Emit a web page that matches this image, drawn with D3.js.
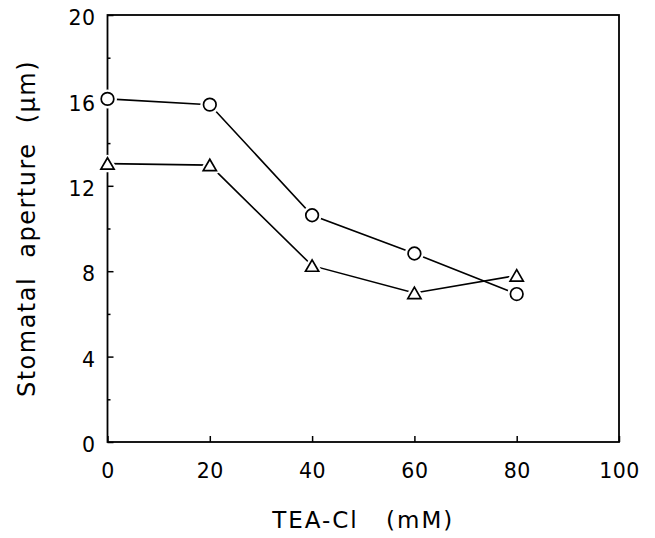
<!DOCTYPE html>
<html>
<head>
<meta charset="utf-8">
<script src="https://cdn.jsdelivr.net/npm/d3@7"></script>
<style>
  html, body { margin: 0; padding: 0; background: #fff; }
  svg { display: block; }
  text { font-family: "DejaVu Sans", "Liberation Sans", Arial, sans-serif; fill: #000; }
</style>
</head>
<body>
<svg id="chart" width="655" height="538"></svg>
<script>
// TEA-Cl concentration (mM)
const concentrations = [0, 20, 40, 60, 80];
// Stomatal aperture (µm), circles series
const circleSeries = [16.07, 15.8, 10.62, 8.83, 6.93];
// Stomatal aperture (µm), triangles series
const triangleSeries = [13.04, 12.97, 8.26, 6.98, 7.8];
// Axis ticks
const xTicks = [0, 20, 40, 60, 80, 100];
const yMajorTicks = [0, 4, 8, 12, 16, 20];
const yMinorTicks = [2, 6, 10, 14, 18];

const svg = d3.select("#chart");
const plotLeft = 107.5, plotRight = 619, plotTop = 15, plotBottom = 442;

const x = d3.scaleLinear().domain([0, 100]).range([plotLeft, plotRight]);
const y = d3.scaleLinear().domain([0, 20]).range([plotBottom, plotTop]);

// Frame
svg.append("rect")
  .attr("x", plotLeft).attr("y", plotTop)
  .attr("width", plotRight - plotLeft).attr("height", plotBottom - plotTop)
  .attr("fill", "none").attr("stroke", "#000").attr("stroke-width", 1.8);

// X axis (inward ticks)
const xAxis = d3.axisBottom(x).tickValues(xTicks).tickSize(-6).tickPadding(21).tickFormat(d3.format("d"));
const gx = svg.append("g").attr("transform", `translate(0,${plotBottom})`).call(xAxis);
gx.select(".domain").remove();
gx.selectAll(".tick line").attr("stroke", "#000").attr("stroke-width", 1.5);
gx.selectAll(".tick text").attr("font-size", 20.5).attr("letter-spacing", 0.5)
  .attr("font-family", "DejaVu Sans, sans-serif");

// Y axis major ticks
const yAxis = d3.axisLeft(y).tickValues(yMajorTicks).tickSize(-6).tickPadding(12).tickFormat(d3.format("d"));
const gy = svg.append("g").attr("transform", `translate(${plotLeft},0)`).call(yAxis);
gy.select(".domain").remove();
gy.selectAll(".tick line").attr("stroke", "#000").attr("stroke-width", 1.5);
gy.selectAll(".tick text").attr("font-size", 20.5).attr("letter-spacing", 0.5).attr("dy", "0.47em")
  .attr("font-family", "DejaVu Sans, sans-serif");

// Y axis minor ticks
const yMinor = d3.axisLeft(y).tickValues(yMinorTicks).tickSize(-3).tickFormat("");
const gym = svg.append("g").attr("transform", `translate(${plotLeft},0)`).call(yMinor);
gym.select(".domain").remove();
gym.selectAll(".tick line").attr("stroke", "#000").attr("stroke-width", 1.5);

// Axis titles
svg.append("text")
  .attr("x", (plotLeft + plotRight) / 2).attr("y", 528)
  .attr("text-anchor", "middle")
  .attr("font-size", 23).attr("letter-spacing", 2).attr("word-spacing", 18)
  .text("TEA-Cl (mM)");

svg.append("text")
  .attr("transform", `translate(35,${(plotTop + plotBottom) / 2}) rotate(-90)`)
  .attr("text-anchor", "middle")
  .attr("font-size", 24).attr("letter-spacing", 1.5).attr("word-spacing", 10)
  .text("Stomatal aperture (μm)");

// Lines
const line = d3.line().x((d, i) => x(concentrations[i])).y(d => y(d));
[circleSeries, triangleSeries].forEach(s => {
  svg.append("path").datum(s)
    .attr("d", line)
    .attr("fill", "none").attr("stroke", "#000").attr("stroke-width", 1.6);
});

// Markers: a white halo first so lines stop short of each symbol
const triPath = "M0,-5.8 L6.6,5.6 L-6.6,5.6 Z";

function drawCircles(series) {
  const g = svg.append("g");
  g.selectAll("circle.halo").data(series).join("circle").attr("class", "halo")
    .attr("cx", (d, i) => x(concentrations[i])).attr("cy", d => y(d))
    .attr("r", 6.5).attr("fill", "#fff").attr("stroke", "#fff").attr("stroke-width", 6);
  g.selectAll("circle.mark").data(series).join("circle").attr("class", "mark")
    .attr("cx", (d, i) => x(concentrations[i])).attr("cy", d => y(d))
    .attr("r", 6.3).attr("fill", "#fff").attr("stroke", "#000").attr("stroke-width", 1.7);
}
function drawTriangles(series) {
  const g = svg.append("g");
  g.selectAll("path.halo").data(series).join("path").attr("class", "halo")
    .attr("transform", (d, i) => `translate(${x(concentrations[i])},${y(d)})`)
    .attr("d", triPath).attr("fill", "#fff").attr("stroke", "#fff").attr("stroke-width", 6)
    .attr("stroke-linejoin", "round");
  g.selectAll("path.mark").data(series).join("path").attr("class", "mark")
    .attr("transform", (d, i) => `translate(${x(concentrations[i])},${y(d)})`)
    .attr("d", triPath).attr("fill", "#fff").attr("stroke", "#000").attr("stroke-width", 1.7);
}
drawTriangles(triangleSeries);
drawCircles(circleSeries);
</script>
</body>
</html>
